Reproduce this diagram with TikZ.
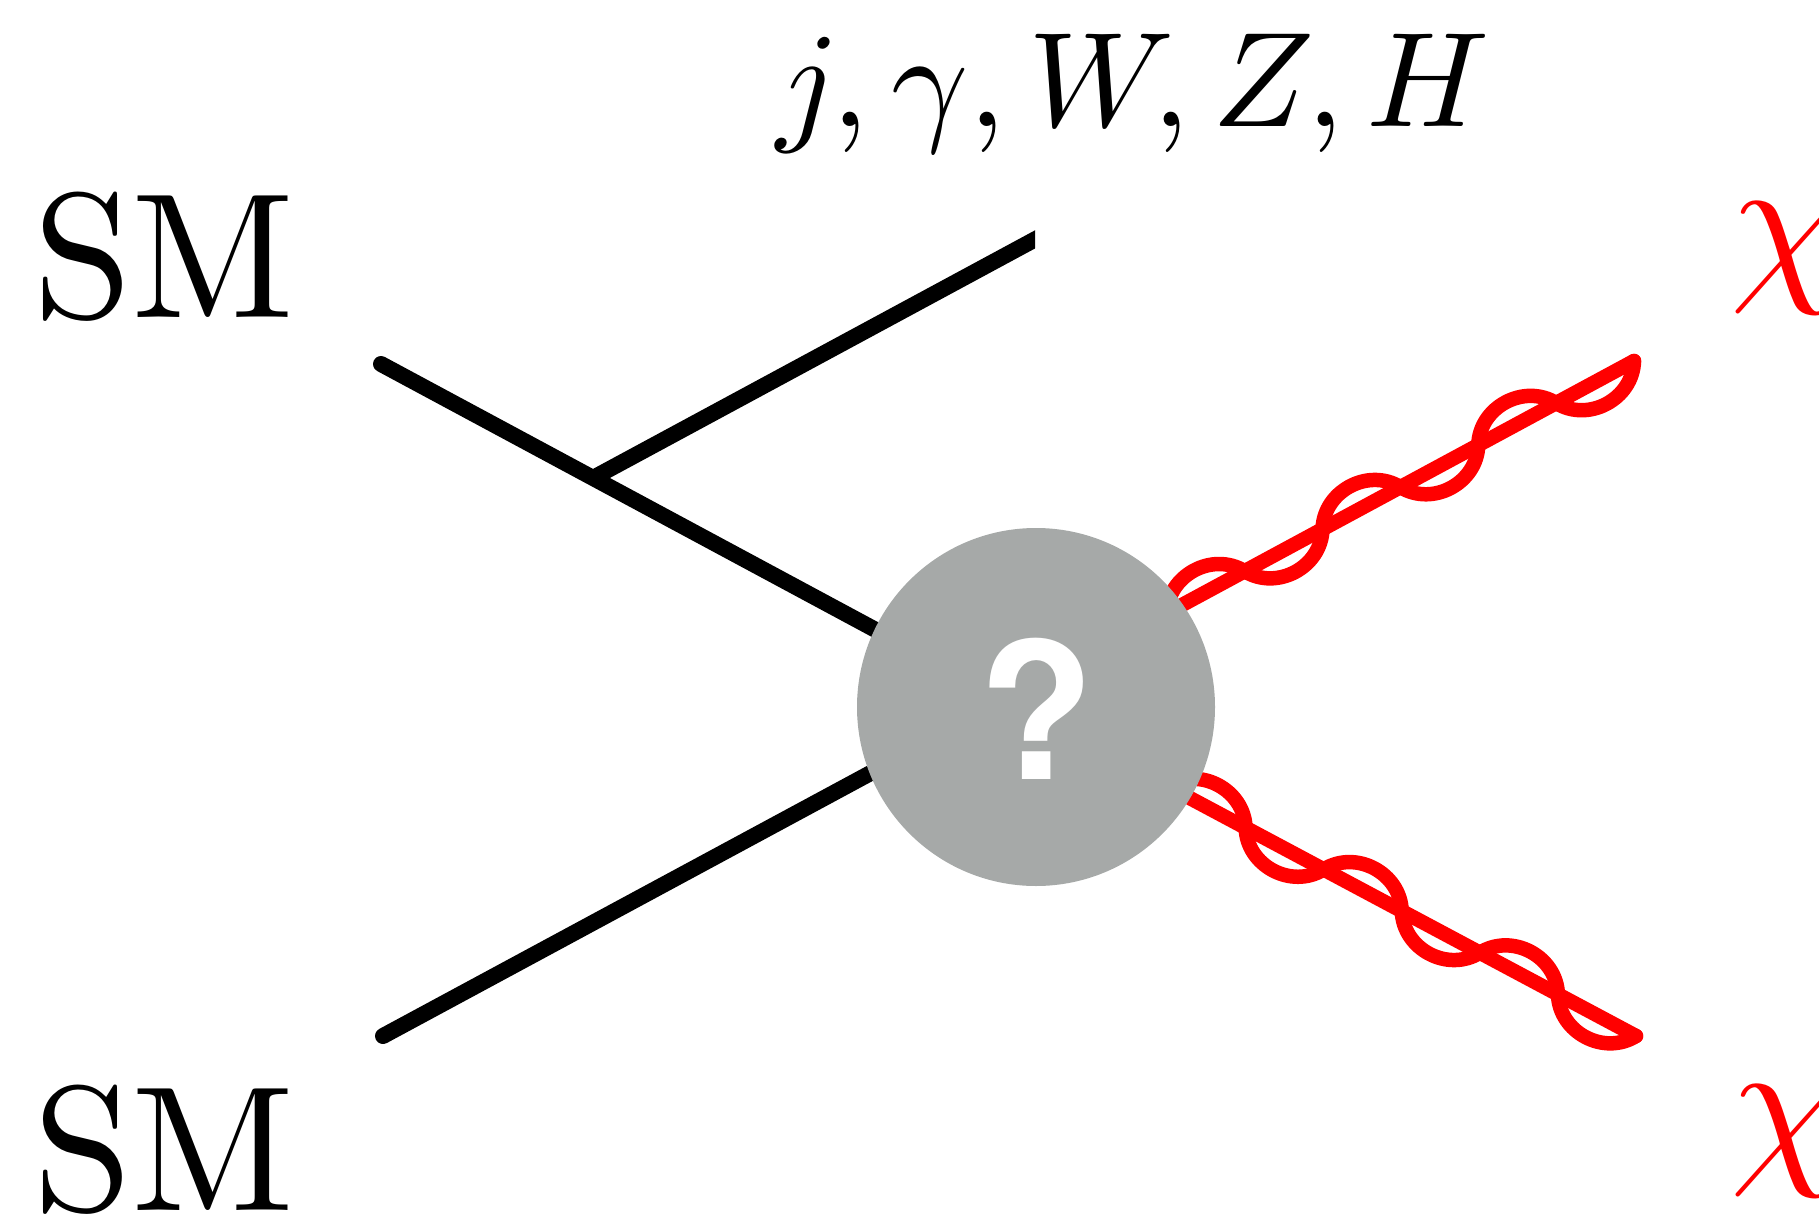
\documentclass[tikz,border=0pt]{standalone}
\usepackage{fontspec}
\newfontfamily\qfont{TeX Gyre Heros}
\usetikzlibrary{calc}
\definecolor{blobgray}{RGB}{166,169,168}
\begin{document}
\begin{tikzpicture}[x=1pt,y=-1pt,
  smline/.style={line width=16pt, line cap=round, black},
  dmline/.style={line width=14.5pt, line cap=round, red},
  wl/.style={bend left=60, looseness=1.1},
  wr/.style={bend right=60, looseness=1.1},
  bigtext/.style={inner sep=0pt, outer sep=0pt, scale=17.8, anchor=base west},
  labeltext/.style={inner sep=0pt, outer sep=0pt, scale=13.5, anchor=base west},
  blobstyle/.style={circle, fill=blobgray, inner sep=0pt, minimum size=358pt},
  qmark/.style={inner sep=0pt, outer sep=0pt, scale=19, anchor=base, text=white, font=\qfont\bfseries}]
\useasboundingbox (0,0) rectangle (1819,1214);
% vertex and ends
\coordinate (v) at (1006,700);
\coordinate (a1) at (381,364);
\coordinate (a2) at (383,1036);
\coordinate (e1) at (593,478);
\coordinate (e2) at (1045,234);
\coordinate (r1) at (1634,361);
\coordinate (r2) at (1636,1036);
% SM lines
\draw[smline] (a1) -- (v);
\draw[smline] (a2) -- (v);
\begin{scope}
  \clip (0,0) rectangle (1035,1214);
  \draw[smline, line cap=butt] (e1) -- (e2);
\end{scope}
% DM lines
\draw[dmline] (r1) -- (v);
\draw[dmline] (r1) to[wl] ($(r1)!88.5pt!(v)$) to[wr] ($(r1)!177pt!(v)$)
  to[wl] ($(r1)!265.5pt!(v)$) to[wr] ($(r1)!354pt!(v)$)
  to[wl] ($(r1)!442.5pt!(v)$) to[wr] ($(r1)!531pt!(v)$)
  to[wl] ($(r1)!619.5pt!(v)$) to[wr] ($(r1)!708pt!(v)$);
\draw[dmline] (r2) -- (v);
\draw[dmline] (r2) to[wl] ($(r2)!88.5pt!(v)$) to[wr] ($(r2)!177pt!(v)$)
  to[wl] ($(r2)!265.5pt!(v)$) to[wr] ($(r2)!354pt!(v)$)
  to[wl] ($(r2)!442.5pt!(v)$) to[wr] ($(r2)!531pt!(v)$)
  to[wl] ($(r2)!619.5pt!(v)$) to[wr] ($(r2)!708pt!(v)$);
% blob
\node[blobstyle] (blob) at (1036,707) {};
\node[qmark] (q) at (1036.5,779) {?};
% labels
\node[bigtext] (sm1) at (33,318) {SM};
\node[bigtext] (sm2) at (33,1210) {SM};
\node[labeltext] (lab) at (776,127) {$j,\gamma,W,Z,H$};
\node[bigtext, text=red] (chi1) at (1730,280) {$\chi$};
\node[bigtext, text=red] (chi2) at (1730,1162) {$\chi$};
\end{tikzpicture}
\end{document}
